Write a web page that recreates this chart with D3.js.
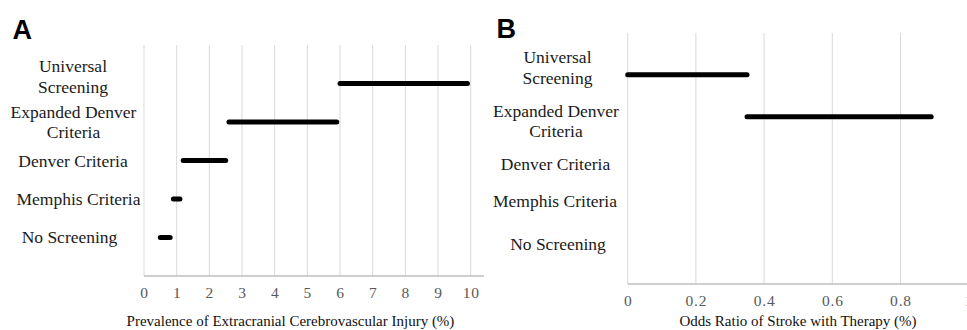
<!DOCTYPE html>
<html><head><meta charset="utf-8">
<script src="https://cdn.jsdelivr.net/npm/d3@7"></script>
<style>
html,body{margin:0;padding:0;background:#fff;}
svg{display:block;}
</style></head>
<body>
<svg id="chart" width="967" height="330"></svg>
<script>
// ---- data ----
const categories = ["Universal Screening", "Expanded Denver Criteria", "Denver Criteria", "Memphis Criteria", "No Screening"];
const categoryLines = [["Universal", "Screening"], ["Expanded Denver", "Criteria"], ["Denver Criteria"], ["Memphis Criteria"], ["No Screening"]];
const categoryRank = [5, 4, 3, 2, 1];
const prevalenceLow = [6.0, 2.6, 1.2, 0.9, 0.5];
const prevalenceHigh = [9.9, 5.9, 2.5, 1.1, 0.8];
const oddsLow = [0, 0.35, null, null, null];
const oddsHigh = [0.35, 0.89, null, null, null];
const ticksA = [0, 1, 2, 3, 4, 5, 6, 7, 8, 9, 10];
const ticksB = [0, 0.2, 0.4, 0.6, 0.8, 1];
const titleA = "Prevalence of Extracranial Cerebrovascular Injury (%)";
const titleB = "Odds Ratio of Stroke with Therapy (%)";

const svg = d3.select("#chart");
const serif = "'Liberation Serif','Times New Roman',serif";

function panel(cfg) {
  const g = svg.append("g");
  const x = d3.scaleLinear().domain(cfg.domain).range([cfg.x0, cfg.x1]);
  const y = d3.scaleLinear().domain([0, 6]).range([cfg.yBottom, cfg.yTop]);

  // gridlines
  g.append("g").selectAll("line").data(cfg.ticks).join("line")
    .attr("x1", d => x(d)).attr("x2", d => x(d))
    .attr("y1", cfg.yTop).attr("y2", cfg.yBottom)
    .attr("stroke", "#d9d9d9").attr("stroke-width", 1);

  // bottom axis line
  g.append("line")
    .attr("x1", x(cfg.domain[0])).attr("x2", cfg.axisEnd)
    .attr("y1", cfg.yBottom).attr("y2", cfg.yBottom)
    .attr("stroke", "#bfbfbf").attr("stroke-width", 1.5);

  // tick labels via axis
  const axis = d3.axisBottom(x).tickValues(cfg.ticks).tickSize(0).tickPadding(0)
    .tickFormat(d3.format("~g"));
  const ag = g.append("g").attr("transform", `translate(0,${cfg.tickY})`).call(axis);
  ag.select(".domain").remove();
  ag.selectAll("text").attr("font-family", serif).attr("font-size", 15.5)
    .attr("letter-spacing", 0.8).attr("fill", "#595959").attr("y", 0).attr("dy", 0);

  // axis title
  g.append("text").attr("x", cfg.titleX).attr("y", cfg.titleY)
    .attr("text-anchor", "middle").attr("font-family", serif).attr("font-size", 15)
    .attr("fill", "#111").text(cfg.title);

  // category labels
  categories.forEach((c, i) => {
    const lines = categoryLines[i];
    const cy = y(categoryRank[i]) + cfg.labelShift[i];
    const t = g.append("text").attr("text-anchor", "middle")
      .attr("font-family", serif).attr("font-size", 17.5).attr("fill", "#1a1a1a");
    lines.forEach((ln, j) => {
      t.append("tspan").attr("x", cfg.labelX + cfg.labelDx[i])
        .attr("y", cy + (j - (lines.length - 1) / 2) * 20.5 + 5.5).text(ln);
    });
  });

  // range bars
  const bars = categories.map((c, i) => ({ c, lo: cfg.lo[i], hi: cfg.hi[i], r: categoryRank[i] }))
    .filter(d => d.lo != null && d.hi != null);
  g.append("g").selectAll("line").data(bars).join("line")
    .attr("x1", d => x(d.lo)).attr("x2", d => x(d.hi))
    .attr("y1", d => y(d.r)).attr("y2", d => y(d.r))
    .attr("stroke", "#000").attr("stroke-width", 5).attr("stroke-linecap", "round");

  // panel letter
  g.append("text").attr("x", cfg.letterX).attr("y", cfg.letterY)
    .attr("font-family", "'Liberation Sans',Arial,sans-serif").attr("font-weight", "bold")
    .attr("font-size", 27).attr("fill", "#000").text(cfg.letter);
}

panel({
  domain: [0, 10], x0: 144, x1: 470.7, axisEnd: 484, yTop: 45, yBottom: 276,
  ticks: ticksA, tickY: 298, titleX: 290.5, titleY: 326, title: titleA,
  lo: prevalenceLow, hi: prevalenceHigh, labelX: 73,
  labelShift: [-6.75, 0.25, 1, 0.5, 0], labelDx: [0, 0.5, 0, 5.5, -3.5],
  letter: "A", letterX: 12.5, letterY: 39
});
panel({
  domain: [0, 1], x0: 627.7, x1: 968.7, axisEnd: 967, yTop: 33, yBottom: 284,
  ticks: ticksB, tickY: 306, titleX: 798, titleY: 326, title: titleB,
  lo: oddsLow, hi: oddsHigh, labelX: 556,
  labelShift: [-7, 5, 6, 1.5, 2.3], labelDx: [1.5, 0, -0.5, -1, 2],
  letter: "B", letterX: 496.5, letterY: 38
});
</script>
</body></html>
